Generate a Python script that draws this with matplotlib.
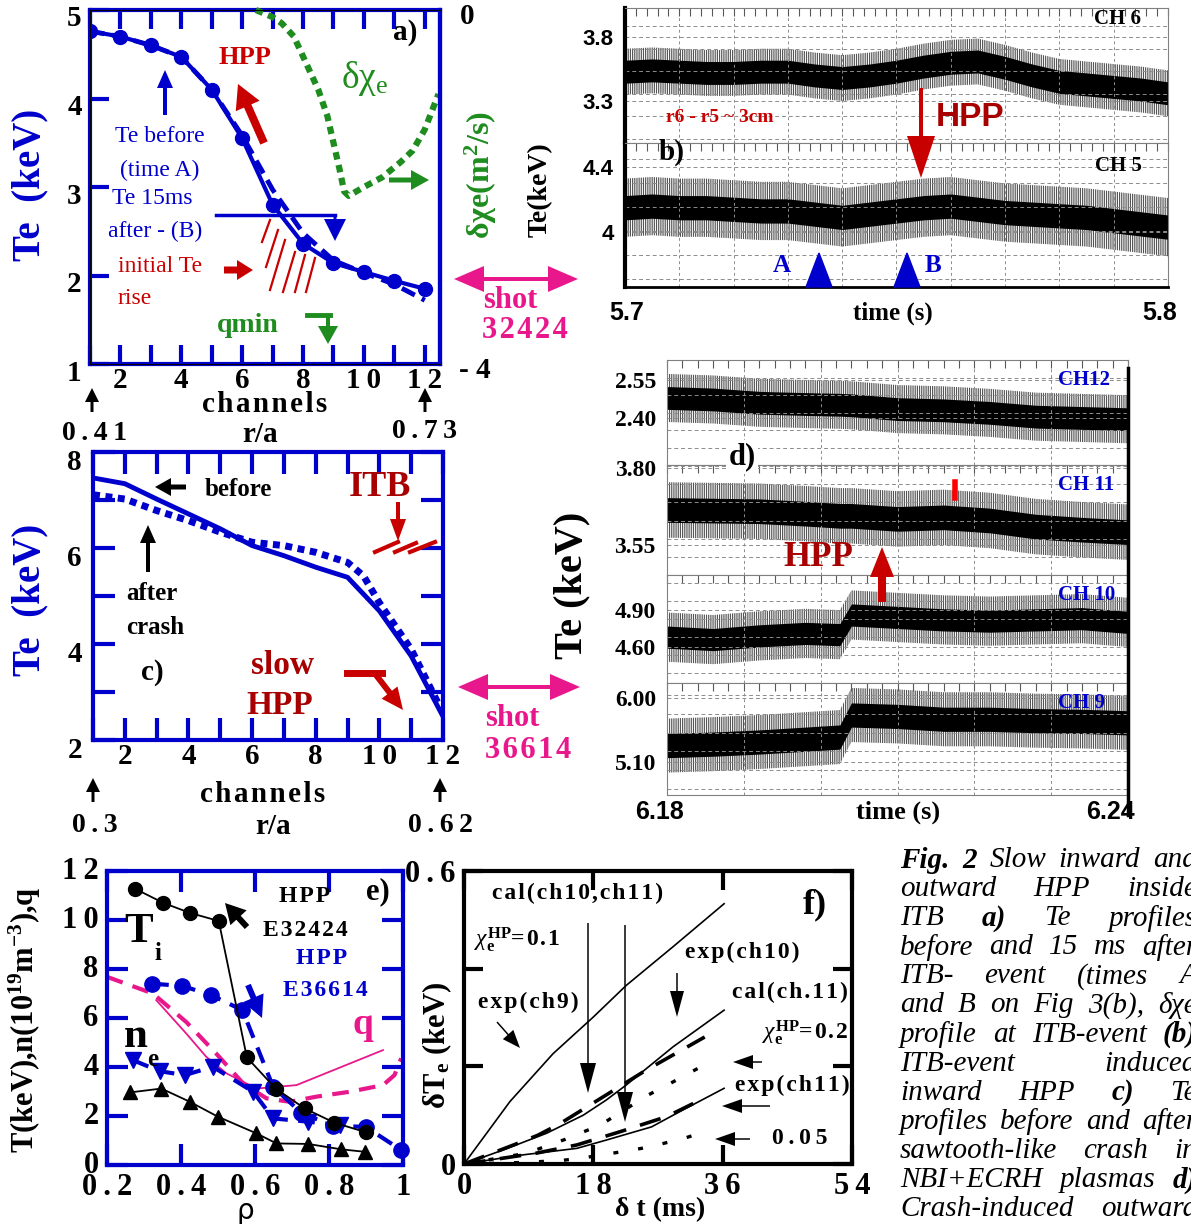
import numpy as np
import matplotlib
matplotlib.use("Agg")
import matplotlib.pyplot as plt
import matplotlib.transforms as mtransforms
from matplotlib.patches import FancyArrow, Polygon
from matplotlib.lines import Line2D
from matplotlib.ticker import MultipleLocator

plt.rcParams['font.family'] = ['Liberation Serif', 'DejaVu Serif']
plt.rcParams['mathtext.fontset'] = 'custom'
plt.rcParams['mathtext.rm'] = 'Liberation Serif'
plt.rcParams['mathtext.it'] = 'Liberation Serif:italic'
plt.rcParams['mathtext.bf'] = 'Liberation Serif:bold'
plt.rcParams['hatch.linewidth'] = 0.6

W, H = 1191, 1224
BLUE = '#0000cc'
GREEN = '#1e8c1e'
RED = '#c80000'
DKRED = '#a80000'
PINK = '#e8188c'
SANS = 'Liberation Sans'

# ---------------- data ----------------
# a) Te profiles before / 15 ms after ITB event, shot 32424
chan = np.arange(1, 13)
te_before_a = [4.76, 4.70, 4.60, 4.47, 4.10, 3.55, 2.80, 2.36, 2.14, 2.04, 1.94, 1.85]
te_after_a = [4.76, 4.70, 4.60, 4.47, 4.10, 3.58, 2.97, 2.48, 2.17, 2.03, 1.90, 1.72]
chi_chan = [6.45, 7.0, 7.3, 7.7, 8.1, 8.5, 8.8, 9.0, 9.2, 9.35, 9.5, 10.0, 10.6, 11.2, 11.6, 12.0, 12.45]
dchi_e = [0, -0.08, -0.15, -0.3, -0.6, -0.9, -1.2, -1.5, -1.8, -2.05, -2.1, -2.0, -1.89, -1.72, -1.59, -1.35, -0.95]

# b) ECE traces CH6 / CH5 (centre of trace, noise envelope)
t_b = [5.700, 5.705, 5.710, 5.715, 5.720, 5.725, 5.730, 5.735, 5.740, 5.745, 5.750,
       5.755, 5.760, 5.765, 5.770, 5.775, 5.780, 5.785, 5.790, 5.795, 5.800]
ch6 = [3.53, 3.54, 3.53, 3.52, 3.52, 3.53, 3.53, 3.50, 3.48, 3.50, 3.53,
       3.57, 3.60, 3.61, 3.56, 3.50, 3.45, 3.43, 3.41, 3.39, 3.36]
ch6_core, ch6_spike = 0.09, 0.18
ch5 = [4.15, 4.16, 4.15, 4.15, 4.14, 4.13, 4.13, 4.11, 4.09, 4.11, 4.13,
       4.15, 4.16, 4.14, 4.12, 4.11, 4.10, 4.09, 4.07, 4.05, 4.03]
ch5_core, ch5_spike = 0.075, 0.18

# c) Te profiles before / after sawtooth-like crash, shot 36614
te_before_c = [7.46, 7.34, 7.02, 6.71, 6.40, 6.05, 5.84, 5.60, 5.39, 4.69, 3.75, 2.49]
chan_after_c = [1, 2, 3, 4, 5, 6, 7, 8, 9, 9.5, 10, 11, 12]
te_after_c = [7.11, 7.02, 6.78, 6.57, 6.33, 6.12, 6.05, 5.91, 5.70, 5.42, 4.86, 3.89, 2.56]

# d) ECE traces CH12..CH9
t_d = [6.180, 6.186, 6.192, 6.198, 6.2025, 6.2040, 6.210, 6.216, 6.222, 6.228, 6.234, 6.240]
ch12 = [2.479, 2.473, 2.460, 2.455, 2.452, 2.450, 2.435, 2.430, 2.420, 2.405, 2.400, 2.395]
ch11 = [3.664, 3.662, 3.660, 3.652, 3.645, 3.645, 3.635, 3.640, 3.630, 3.610, 3.600, 3.592]
ch10 = [4.68, 4.66, 4.69, 4.71, 4.70, 4.86, 4.84, 4.82, 4.81, 4.82, 4.83, 4.80]
ch9 = [5.33, 5.35, 5.38, 5.42, 5.45, 5.76, 5.74, 5.70, 5.70, 5.68, 5.67, 5.65]
d_core = [0.045, 0.04, 0.09, 0.17]
d_spike = [0.095, 0.09, 0.2, 0.38]

# e) profiles vs rho
rho_ti1 = [0.275, 0.352, 0.424, 0.502, 0.578, 0.656, 0.734, 0.814, 0.901]
ti_32424 = [11.28, 10.70, 10.29, 9.96, 4.39, 3.12, 2.31, 1.73, 1.33]
rho_ti2 = [0.322, 0.404, 0.482, 0.566, 0.649, 0.725, 0.811, 0.899, 0.995]
ti_36614 = [7.40, 7.31, 6.93, 6.32, 3.19, 2.13, 1.59, 1.56, 0.61]
rho_ne2 = [0.270, 0.342, 0.410, 0.486, 0.595, 0.649, 0.743, 0.829]
ne_36614 = [4.28, 3.83, 3.67, 4.01, 2.99, 1.90, 1.77, 1.63]
rho_ne1 = [0.261, 0.347, 0.424, 0.500, 0.604, 0.658, 0.743, 0.833, 0.896]
ne_32424 = [2.96, 3.12, 2.58, 1.97, 1.29, 0.88, 0.86, 0.64, 0.54]
rho_q1 = [0.333, 0.414, 0.468, 0.523, 0.604, 0.658, 0.712, 0.946]
q_32424 = [6.73, 5.37, 4.42, 3.74, 3.12, 3.19, 3.26, 4.69]
rho_q2 = [0.2, 0.324, 0.414, 0.495, 0.568, 0.631, 0.694, 0.766, 0.856, 0.946, 0.977, 0.995]
q_36614 = [7.68, 7.0, 5.84, 4.55, 3.33, 2.72, 2.58, 2.79, 2.99, 3.26, 3.67, 4.35]

# f) delta Te vs delta t
dt_ch9 = [0, 6.4, 12.4, 18.0, 22.6, 29.1, 36.2]
dte_ch9 = [0, 0.128, 0.226, 0.301, 0.366, 0.445, 0.533]
dt_cal11 = [0, 5.5, 11.5, 16.6, 19.8, 22.6, 29.1, 36.2]
dte_cal11 = [0, 0.029, 0.063, 0.100, 0.131, 0.162, 0.240, 0.315]
dt_exp10 = [0, 6.9, 10.3, 13.4, 19.2, 25.1, 33.5]
dte_exp10 = [0, 0.039, 0.059, 0.083, 0.136, 0.19, 0.26]
dt_ch11 = [0, 7.8, 15.7, 19.8, 26.1, 30.0, 36.2]
dte_ch11 = [0, 0.018, 0.032, 0.049, 0.076, 0.107, 0.155]
dt_exp11 = [0, 10.0, 15.7, 21.7, 28.2, 33.3]
dte_exp11 = [0, 0.022, 0.039, 0.066, 0.097, 0.134]
dt_chi02 = [0, 8.7, 14.0, 19.0, 25.6, 28.7, 31.7, 34.7]
dte_chi02 = [0, 0.022, 0.05, 0.08, 0.141, 0.165, 0.189, 0.213]
dt_chi005 = [0, 8.0, 13.4, 16.4, 18.9, 21.9, 24.7, 27.7, 30.5, 33.5]
dte_chi005 = [0, 0.003, 0.007, 0.012, 0.018, 0.025, 0.032, 0.042, 0.052, 0.066]

caption = ["Fig. 2 Slow inward and", "outward HPP inside", "ITB a) Te profiles",
           "before and 15 ms after", "ITB- event (times A", "and B on Fig 3(b), δχe",
           "profile at ITB-event (b)", "ITB-event induced", "inward HPP c) Te",
           "profiles before and after", "sawtooth-like crash in",
           "NBI+ECRH plasmas d)", "Crash-induced outward"]
caption_bold = {"Fig.", "2", "a)", "(b)", "c)", "d)"}

# ---------------- helpers ----------------
fig = plt.figure(figsize=(W / 100, H / 100), dpi=100)
PX = mtransforms.Affine2D().scale(1 / W, -1 / H).translate(0, 1) + fig.transFigure


def box(l, t, r, b):
    return [l / W, 1 - b / H, (r - l) / W, (b - t) / H]


def sp(s, ch='\u200a'):
    # letter-spaced text, as in the original typesetting
    return ch.join(s)


def txt(x, y, s, size=16, color='black', weight='bold', **kw):
    kw.setdefault('ha', 'center')
    kw.setdefault('va', 'center')
    return fig.text(x, y, s, transform=PX, fontsize=size, color=color,
                    fontweight=weight, **kw)


def arrow(x0, y0, x1, y1, color='black', w=3, hw=12, hl=14):
    fig.add_artist(FancyArrow(x0, y0, x1 - x0, y1 - y0, width=w, head_width=hw,
                              head_length=hl, length_includes_head=True,
                              color=color, lw=0, transform=PX))


def seg(xs, ys, color='black', lw=2, **kw):
    fig.add_artist(Line2D(xs, ys, color=color, lw=lw, transform=PX, **kw))


def dbl_arrow(x0, x1, y, color):
    xm = (x0 + x1) / 2
    arrow(xm, y, x0, y, color, w=4, hw=26, hl=30)
    arrow(xm, y, x1, y, color, w=4, hw=26, hl=30)


def bold_ticks(ax, size, family=None):
    for lab in ax.get_xticklabels() + ax.get_yticklabels():
        lab.set_fontweight('bold')
        lab.set_fontsize(size)
        if family:
            lab.set_family(family)


def shift_ylabels(ax, dy):
    off = mtransforms.ScaledTranslation(0, -dy / 100, fig.dpi_scale_trans)
    for lab in ax.get_yticklabels():
        lab.set_transform(lab.get_transform() + off)


def trace(ax, t, c, core, spike):
    c = np.asarray(c)
    ax.fill_between(t, c - spike, c + spike, facecolor='none', edgecolor='0.2',
                    hatch='|||||||||', lw=0)
    ax.fill_between(t, c - core, c + core, color='black', lw=0)


def scope_axes(rect, ylim, ticks, labels, xlim, lab_family, lab_size):
    ax = fig.add_axes(rect)
    ax.set_xlim(*xlim)
    ax.set_ylim(*ylim)
    ax.set_yticks(ticks)
    ax.set_yticklabels(labels)
    ax.yaxis.set_minor_locator(MultipleLocator((ylim[1] - ylim[0]) / 6))
    ax.xaxis.set_major_locator(MultipleLocator(0.01))
    ax.xaxis.set_minor_locator(MultipleLocator(0.002))
    ax.set_xticklabels([])
    ax.grid(axis='y', which='both', ls=(0, (4, 3)), color='0.55', lw=0.7)
    ax.grid(axis='x', which='major', ls=(0, (3, 3)), color='0.55', lw=0.7)
    ax.tick_params(axis='x', which='both', top=True, bottom=False, direction='in',
                   length=6, width=0.8, color='0.35')
    ax.tick_params(axis='y', which='both', length=0, pad=8)
    for s in ax.spines.values():
        s.set_color('0.5')
        s.set_linewidth(0.8)
    bold_ticks(ax, lab_size, lab_family)
    return ax


# ---------------- a) ----------------
ax = fig.add_axes(box(90, 10, 440, 364))
ax.plot(chan, te_after_a, color=BLUE, lw=3.5, ls=(0, (3, 1.6)))
ax.plot(chan, te_before_a, color=BLUE, lw=3, marker='o', ms=10)
ax.set_xlim(1, 12.5)
ax.set_ylim(1, 5)
ax.set_xticks(range(2, 13, 2))
ax.set_xticklabels(['2', '4', '6', '8', sp('10', '\u2009'), sp('12', '\u2009')])
ax.set_xticks(range(1, 13, 2), minor=True)
ax.set_yticks([1, 2, 3, 4, 5])
for s in ax.spines.values():
    s.set_color(BLUE)
    s.set_linewidth(3)
ax.tick_params(which='both', direction='in', color=BLUE, width=3, length=14,
               top=True, pad=6)
ax.tick_params(axis='x', pad=2)
bold_ticks(ax, 21)
shift_ylabels(ax, 6)
ax2 = ax.twinx()
ax2.plot(chi_chan, dchi_e, color=GREEN, lw=4.5, ls=(0, (1.2, 0.9)), clip_on=False)
ax2.set_ylim(-4, 0)
ax2.set_yticks([-4, 0])
ax2.set_yticklabels(['- 4', '0'])
ax2.tick_params(length=0, pad=14)
ax2.spines['right'].set_color(BLUE)
ax2.spines['right'].set_linewidth(3)
bold_ticks(ax2, 21)
shift_ylabels(ax2, 3)

txt(405, 33, 'a)', 21)
txt(245, 57, 'HPP', 19, RED)
arrow(264, 143, 238, 84, RED, w=8, hw=26, hl=24)
txt(365, 78, 'δχ$_{\\mathrm{e}}$', 27, GREEN, 'normal')
arrow(165, 115, 165, 70, BLUE, w=4, hw=16, hl=18)
txt(160, 137, 'Te before', 17, BLUE, 'normal')
txt(160, 170, '(time A)', 17, BLUE, 'normal')
txt(152, 198, 'Te 15ms', 17, BLUE, 'normal')
txt(155, 231, 'after - (B)', 17, BLUE, 'normal')
seg([216, 335], [215, 215], BLUE, 2.5)
arrow(335, 214, 335, 241, BLUE, w=3, hw=22, hl=22)
txt(118, 266, 'initial Te', 17, RED, 'normal', ha='left')
txt(118, 298, 'rise', 17, RED, 'normal', ha='left')
arrow(224, 270, 253, 270, RED, w=7, hw=20, hl=16)
for (x0, y0, x1, y1) in [(270, 220, 262, 242), (278, 230, 266, 267), (285, 240, 270, 290),
                         (295, 252, 283, 292), (305, 255, 295, 292), (315, 258, 306, 292)]:
    seg([x0, x1], [y0, y1], RED, 1.6)
txt(248, 325, 'qmin', 20, GREEN)
seg([307, 330], [315, 315], GREEN, 3.5)
arrow(328, 314, 328, 344, GREEN, w=4, hw=20, hl=18)
arrow(389, 180, 429, 180, GREEN, w=5, hw=20, hl=18)
txt(481, 175, 'δχe(m$^{\\mathbf{2}}$/s)', 23, GREEN, rotation=90)
txt(540, 190, 'Te(keV)', 20, rotation=90)
dbl_arrow(454, 578, 279, PINK)
txt(510, 300, 'shot', 22, PINK)
txt(525, 330, sp('32424'), 22, PINK)
txt(30, 185, 'Te  (keV)', 28, BLUE, rotation=90)
arrow(92, 412, 92, 388, w=3, hw=14, hl=14)
arrow(425, 412, 425, 388, w=3, hw=14, hl=14)
txt(95, 434, sp('0.41', '\u2009'), 20)
txt(425, 432, sp('0.73', '\u2009'), 20)
txt(265, 405, sp('channels'), 21)
txt(260, 435, 'r/a', 21)

# ---------------- b) ----------------
b6 = scope_axes(box(625, 8, 1168, 143), (2.97, 4.03), [3.3, 3.8], ['3.3', '3.8'],
                (5.7, 5.8), SANS, 16)
trace(b6, t_b, ch6, ch6_core, ch6_spike)
b5 = scope_axes(box(625, 143, 1168, 287), (3.66, 4.55), [4.0, 4.4], ['4', '4.4'],
                (5.7, 5.8), SANS, 16)
trace(b5, t_b, ch5, ch5_core, ch5_spike)
for a_ in (b6, b5):
    a_.spines['left'].set_color('black')
    a_.spines['left'].set_linewidth(3)
b5.spines['bottom'].set_color('black')
b5.spines['bottom'].set_linewidth(2)
txt(627, 313, '5.7', 18, family=SANS)
txt(893, 313, 'time (s)', 18)
txt(1160, 313, '5.8', 18, family=SANS)
txt(1118, 19, 'CH 6', 15)
txt(1118, 166, 'CH 5', 15)
txt(672, 152, 'b)', 21)
txt(720, 118, 'r6 - r5 ~ 3cm', 14, RED)
arrow(921, 88, 921, 178, RED, w=4, hw=28, hl=42)
txt(970, 118, 'HPP', 24, DKRED, family=SANS)
for xc in (819, 907):
    fig.add_artist(Polygon([[xc - 13, 287], [xc + 13, 287], [xc, 253]], closed=True,
                           color=BLUE, transform=PX))
txt(782, 266, 'A', 18, BLUE)
txt(933, 266, 'B', 18, BLUE)

# ---------------- c) ----------------
ac = fig.add_axes(box(93, 452, 443, 740))
ac.plot(chan, te_before_c, color=BLUE, lw=3.5)
ac.plot(chan_after_c, te_after_c, color=BLUE, lw=5, ls=(0, (1, 0.8)))
ac.set_xlim(1, 12)
ac.set_ylim(2, 8)
ac.set_xticks(range(2, 13, 2))
ac.set_xticklabels(['2', '4', '6', '8', sp('10', '\u2009'), sp('12', '\u2009')])
ac.set_xticks(range(1, 13, 2), minor=True)
ac.set_yticks([2, 4, 6, 8])
ac.set_yticks([3, 5, 7], minor=True)
for s in ac.spines.values():
    s.set_color(BLUE)
    s.set_linewidth(3)
ac.tick_params(which='both', direction='in', color=BLUE, width=3, length=16,
               top=True, right=True, pad=8)
ac.tick_params(axis='x', pad=2)
bold_ticks(ac, 21)
shift_ylabels(ac, 8)
arrow(186, 487, 155, 487, w=5, hw=18, hl=16)
txt(238, 490, 'before', 18)
arrow(148, 572, 148, 525, w=4, hw=16, hl=18)
txt(152, 594, 'after', 18)
txt(155, 627, 'crash', 18)
txt(380, 487, 'ITB', 26, DKRED)
arrow(398, 502, 398, 541, RED, w=4, hw=16, hl=22)
for (x0, y0, x1, y1) in [(375, 552, 398, 542), (395, 552, 416, 543), (410, 552, 435, 542)]:
    seg([x0, x1], [y0, y1], RED, 3)
txt(152, 673, 'c)', 21)
txt(283, 666, 'slow', 24, DKRED)
txt(280, 705, 'HPP', 24, DKRED)
seg([347, 382], [673, 673], RED, 5)
arrow(376, 675, 403, 710, RED, w=6, hw=20, hl=22)
dbl_arrow(458, 580, 687, PINK)
txt(512, 718, 'shot', 22, PINK)
txt(528, 750, sp('36614'), 22, PINK)
txt(30, 600, 'Te  (keV)', 28, BLUE, rotation=90)
txt(572, 585, 'Te (keV)', 29, rotation=90)
arrow(93, 802, 93, 778, w=3, hw=14, hl=14)
arrow(440, 802, 440, 778, w=3, hw=14, hl=14)
txt(263, 795, sp('channels'), 21)
txt(95, 826, sp('0.3', '\u2009'), 20)
txt(273, 826, 'r/a', 21)
txt(440, 826, sp('0.62', '\u2009'), 20)

# ---------------- d) ----------------
d_rows = [(360, 465, (2.214, 2.629), [2.40, 2.55], ch12, 'CH12'),
          (465, 575, (3.453, 3.81), [3.55, 3.80], ch11, 'CH 11'),
          (575, 683, (4.307, 5.185), [4.60, 4.90], ch10, 'CH 10'),
          (683, 795, (4.635, 6.21), [5.10, 6.00], ch9, 'CH 9')]
for i, (top, bot, ylim, ticks, vals, name) in enumerate(d_rows):
    dax = scope_axes(box(667, top, 1128, bot), ylim, ticks,
                     ['%.2f' % v for v in ticks], (6.18, 6.24), None, 17)
    trace(dax, t_d, vals, d_core[i], d_spike[i])
    txt(1058, top + 20, name, 15, BLUE, ha='left')
seg([1128, 1128], [368, 815], 'black', 2.5)
txt(742, 457, 'd)', 22, bbox=dict(facecolor='white', edgecolor='none', pad=2))
txt(818, 558, 'HPP', 25, DKRED)
arrow(882, 602, 882, 547, RED, w=8, hw=24, hl=30)
seg([955, 955], [482, 498], 'red', 4)
txt(660, 812, '6.18', 18, family=SANS)
txt(898, 812, 'time (s)', 19)
txt(1110, 812, '6.24', 18, family=SANS)

# ---------------- e) ----------------
ae = fig.add_axes(box(107, 871, 403, 1165))
ae.plot(rho_q1, q_32424, color=PINK, lw=1.3)
ae.plot(rho_q2, q_36614, color=PINK, lw=3, ls=(0, (4, 2.5)))
ae.plot(rho_ne1, ne_32424, color='black', lw=1.3, marker='^', ms=10)
ae.plot(rho_ne2, ne_36614, color=BLUE, lw=3, ls=(0, (4, 2.5)), marker='v', ms=11)
ae.plot(rho_ti2, ti_36614, color=BLUE, lw=3, ls=(0, (4, 2.5)), marker='o', ms=11,
        clip_on=False)
ae.plot(rho_ti1, ti_32424, color='black', lw=1.3, marker='o', ms=10)
ae.set_xlim(0.2, 1.0)
ae.set_ylim(0, 12)
ae.set_xticks([0.2, 0.4, 0.6, 0.8, 1.0])
ae.set_xticklabels([sp('0.2', '\u2009'), sp('0.4', '\u2009'), sp('0.6', '\u2009'),
                    sp('0.8', '\u2009'), '1'])
ae.set_yticks(range(0, 13, 2))
ae.set_yticklabels(['0', '2', '4', '6', '8', sp('10', '\u2009'), sp('12', '\u2009')])
for s in ae.spines.values():
    s.set_color(BLUE)
    s.set_linewidth(3)
ae.tick_params(direction='in', color=BLUE, width=3, length=15, top=True, right=True,
               pad=6)
bold_ticks(ae, 22)
shift_ylabels(ae, -3)
txt(139, 932, 'T', 31)
txt(158, 953, 'i', 18)
txt(136, 1037, 'n', 31)
txt(153, 1060, 'e', 18)
txt(305, 897, sp('HPP'), 17)
txt(305, 930, sp('E32424'), 17)
txt(322, 958, sp('HPP'), 17, BLUE)
txt(325, 990, sp('E36614'), 17, BLUE)
txt(363, 1025, 'q', 27, PINK)
txt(378, 892, 'e)', 22)
arrow(247, 927, 225, 903, w=6, hw=22, hl=20)
arrow(248, 985, 262, 1018, BLUE, w=6, hw=22, hl=22)
txt(25, 1020, 'T(keV),n(10$^{\\mathbf{19}}$m$^{\\mathbf{-3}}$),q', 22, rotation=90)
txt(245, 1211, 'ρ', 20, 'black', 'normal', family='DejaVu Sans')

# ---------------- f) ----------------
af = fig.add_axes(box(464, 871, 852, 1164))
af.plot(dt_ch9, dte_ch9, color='black', lw=1.2)
af.plot(dt_cal11, dte_cal11, color='black', lw=1.2)
af.plot(dt_ch11, dte_ch11, color='black', lw=1.2)
af.plot(dt_exp10, dte_exp10, color='black', lw=2.6, ls=(0, (6, 4)))
af.plot(dt_exp11, dte_exp11, color='black', lw=2.6, ls=(0, (6, 4)))
af.plot(dt_chi02, dte_chi02, color='black', lw=2.4, ls=(0, (1.5, 6)))
af.plot(dt_chi005, dte_chi005, color='black', lw=2.4, ls=(0, (1.5, 6)))
af.set_xlim(0, 54)
af.set_ylim(0, 0.6)
af.set_xticks([0, 18, 36, 54])
af.set_xticklabels(['0', sp('18', '\u2009'), sp('36', '\u2009'), sp('54', '\u2009')])
af.set_yticks([0, 0.2, 0.4, 0.6])
af.set_yticklabels(['0', '', '', sp('0.6', '\u2009')])
for s in af.spines.values():
    s.set_linewidth(3)
af.tick_params(direction='in', width=3, length=14, top=True, right=True, pad=6)
bold_ticks(af, 22)
txt(578, 893, sp('cal(ch10,ch11)'), 17)
txt(815, 905, 'f)', 26)
txt(474, 940, '$\\chi_{\\mathbf{e}}^{\\mathbf{HP}}$' + sp('=0.1'), 17, ha='left')
txt(528, 1002, sp('exp(ch9)'), 17)
arrow(497, 1022, 520, 1048, w=1.5, hw=14, hl=18)
arrow(588, 923, 588, 1093, w=1.5, hw=16, hl=30)
arrow(625, 925, 625, 1122, w=1.5, hw=16, hl=30)
txt(742, 952, sp('exp(ch10)'), 17)
arrow(677, 973, 677, 1017, w=1.5, hw=14, hl=26)
txt(790, 992, sp('cal(ch.11)'), 17)
txt(762, 1033, '$\\chi_{\\mathbf{e}}^{\\mathbf{HP}}$' + sp('=0.2'), 17, ha='left')
arrow(762, 1062, 733, 1062, w=1.5, hw=14, hl=20)
txt(792, 1085, sp('exp(ch11)'), 17)
arrow(770, 1106, 722, 1106, w=1.5, hw=14, hl=20)
txt(800, 1138, sp('0.05', '\u2009'), 17)
arrow(750, 1139, 715, 1139, w=1.5, hw=14, hl=20)
txt(437, 1045, 'δT$_{\\mathbf{e}}$ (keV)', 22, rotation=90)
txt(660, 1210, 'δ t (ms)', 20)

# ---------------- caption (justified) ----------------
renderer = fig.canvas.get_renderer()
x_left, x_right = 900, 1197
for i, line in enumerate(caption):
    y = 860 + 29.1 * i
    words = line.split(' ')
    items = [txt(0, y, w_, 21, weight='bold' if w_ in caption_bold else 'normal',
                 ha='left', style='italic') for w_ in words]
    widths = [it.get_window_extent(renderer=renderer).width for it in items]
    gap = (x_right - x_left - sum(widths)) / max(len(words) - 1, 1)
    x = x_left
    for it, wd in zip(items, widths):
        it.set_x(x)
        x += wd + gap

fig.savefig('out.png', dpi=100)
